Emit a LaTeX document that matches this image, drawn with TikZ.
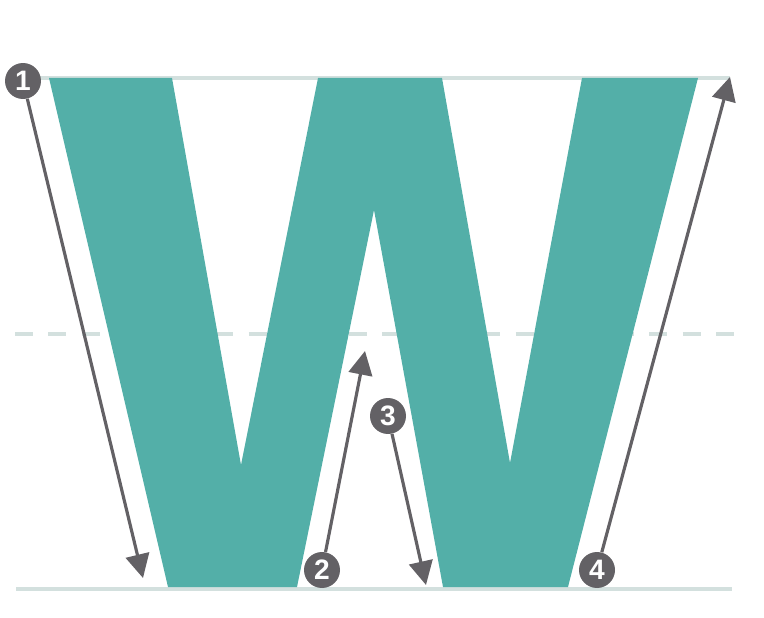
\documentclass[tikz,border=0pt]{standalone}
\usepackage{fontspec}
\setmainfont{Liberation Sans}
\usetikzlibrary{arrows.meta}

\definecolor{wteal}{HTML}{53AFA8}
\definecolor{guidegray}{HTML}{D3E0DE}
\definecolor{markgray}{HTML}{636165}

\begin{document}
\begin{tikzpicture}[
    x=0.02cm, y=-0.02cm,
    >={Triangle[length=13.5pt,width=13.5pt]},
    guideline/.style={guidegray, line width=1.8pt},
    strokearrow/.style={->, markgray, line width=1.8pt},
    num/.style={circle, fill=markgray, text=white, inner sep=0pt,
        minimum size=0.72cm, font=\fontsize{16}{16}\selectfont\bfseries}
    ]
\useasboundingbox (0,0) rectangle (764,618);

% guide lines (cap height, x-height, baseline)
\draw[guideline] (16,78) -- (730,78);
\draw[guideline, dash pattern=on 10.2pt off 8.8pt] (15,334) -- (734,334);
\draw[guideline] (16,589) -- (732,589);

% the letter W
\fill[wteal] (49,78) -- (172,78) -- (241,465) -- (318,78) -- (442,78)
    -- (510,463) -- (582,78) -- (698,78) -- (568,587) -- (443,587)
    -- (374,210) -- (297,587) -- (168,587) -- cycle;

% stroke order markers
\node[num] (n1) at (23,81)  {1};
\node[num] (n2) at (322,570) {2};
\node[num] (n3) at (388,416) {3};
\node[num] (n4) at (597,570) {4};

\coordinate (t1) at (143,578);
\coordinate (t2) at (365,351);
\coordinate (t3) at (426,585);
\coordinate (t4) at (730,77);

% stroke directions
\draw[strokearrow] (n1) -- (t1);
\draw[strokearrow] (n2) -- (t2);
\draw[strokearrow] (n3) -- (t3);
\draw[strokearrow] (n4) -- (t4);

\end{tikzpicture}
\end{document}
